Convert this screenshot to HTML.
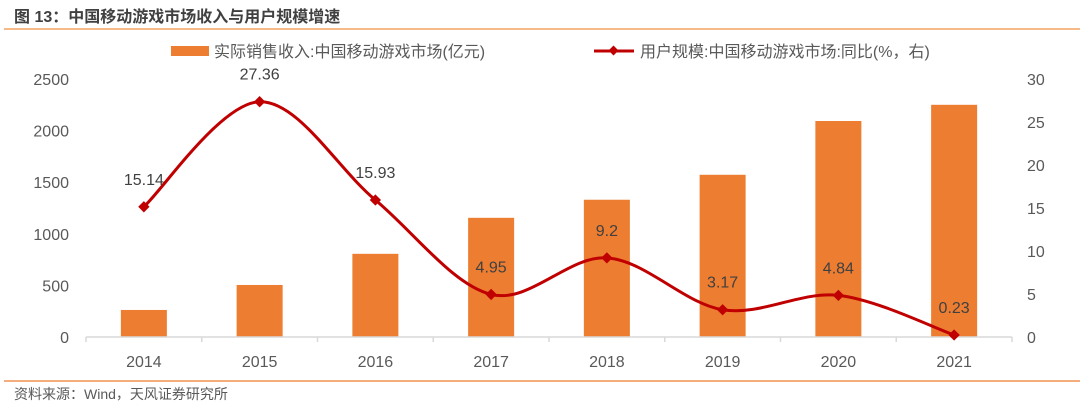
<!DOCTYPE html>
<html><head><meta charset="utf-8"><style>
body{margin:0;width:1080px;height:412px;background:#fff;overflow:hidden;font-family:"Liberation Sans","Noto Sans CJK SC",sans-serif;}
svg{display:block}
</style></head><body>
<svg id="chart" width="1080" height="412" xmlns="http://www.w3.org/2000/svg" font-family="Liberation Sans, Noto Sans CJK SC, sans-serif">
<text x="14" y="22" font-size="16" font-weight="bold" fill="#404040">图 13：中国移动游戏市场收入与用户规模增速</text>
<line x1="4" y1="29" x2="1080" y2="29" stroke="#F4A460" stroke-width="1.5"/>
<line x1="4" y1="381" x2="1080" y2="381" stroke="#ED7D31" stroke-width="1.2"/>
<text x="14" y="399" font-size="14" fill="#595959">资料来源：Wind，天风证券研究所</text>
<g>
<rect x="171" y="46" width="38" height="10" fill="#ED7D31"/>
<text x="214" y="57" font-size="16" fill="#595959">实际销售收入:中国移动游戏市场(亿元)</text>
<line x1="594" y1="51" x2="634" y2="51" stroke="#C00000" stroke-width="3"/>
<rect x="610" y="47" width="7" height="7" fill="#C00000" transform="rotate(45 613.5 50.5)"/>
<text x="640" y="57" font-size="16" fill="#595959">用户规模:中国移动游戏市场:同比(%，右)</text>
</g>
<g id="plot"></g>
</svg>
<script>
const categories=["2014","2015","2016","2017","2018","2019","2020","2021"];
const revenue=[262,504,806,1155,1330,1572,2093,2250];
const growth=[15.14,27.36,15.93,4.95,9.2,3.17,4.84,0.23];
const leftTicks=[0,500,1000,1500,2000,2500];
const rightTicks=[0,5,10,15,20,25,30];
const NS="http://www.w3.org/2000/svg";
const g=document.getElementById('plot');
const x0=86,x1=1012,yb=337,yt=79;
const bw=(x1-x0)/categories.length;
const xc=i=>x0+bw*(i+0.5);
const yl=v=>yb-(v/2500)*(yb-yt);
const yr=v=>yb-(v/30)*(yb-yt);
function mk(t,a){const e=document.createElementNS(NS,t);for(const k in a)e.setAttribute(k,a[k]);g.appendChild(e);return e;}
leftTicks.forEach(v=>{const t=mk('text',{x:69,y:yl(v)+6,'font-size':16,fill:'#595959','text-anchor':'end'});t.textContent=v;

});
rightTicks.forEach(v=>{const t=mk('text',{x:1027,y:yr(v)+6,'font-size':16,fill:'#595959'});t.textContent=v;

});
revenue.forEach((v,i)=>{const r=mk('rect',{x:xc(i)-23,y:yl(v),width:46,height:yb-yl(v),fill:'#ED7D31'});

});
const ax=mk('line',{x1:x0,y1:yb,x2:x1,y2:yb,stroke:'#D9D9D9','stroke-width':1.5});


for(let i=0;i<=categories.length;i++){const tk=mk('line',{x1:x0+bw*i,y1:yb,x2:x0+bw*i,y2:yb+5,stroke:'#D9D9D9','stroke-width':1.5});

}
categories.forEach((c,i)=>{const t=mk('text',{x:xc(i),y:yb+30,'font-size':16,fill:'#595959','text-anchor':'middle'});t.textContent=c;

});
const pts=growth.map((v,i)=>[xc(i),yr(v)]);
let d='M'+pts[0][0]+','+pts[0][1];
for(let i=0;i<pts.length-1;i++){const p0=pts[i-1]||pts[i],p1=pts[i],p2=pts[i+1],p3=pts[i+2]||p2;
d+=' C'+(p1[0]+(p2[0]-p0[0])/6)+','+(p1[1]+(p2[1]-p0[1])/6)+' '+(p2[0]-(p3[0]-p1[0])/6)+','+(p2[1]-(p3[1]-p1[1])/6)+' '+p2[0]+','+p2[1];}
const ln=mk('path',{d:d,fill:'none',stroke:'#C00000','stroke-width':3});


pts.forEach((p,i)=>{const m=mk('rect',{x:p[0]-4,y:p[1]-4,width:8,height:8,fill:'#C00000',transform:`rotate(45 ${p[0]} ${p[1]})`});


const t=mk('text',{x:p[0],y:p[1]-22,'font-size':16,fill:'#404040','text-anchor':'middle'});t.textContent=growth[i];

});
</script>
</body></html>
